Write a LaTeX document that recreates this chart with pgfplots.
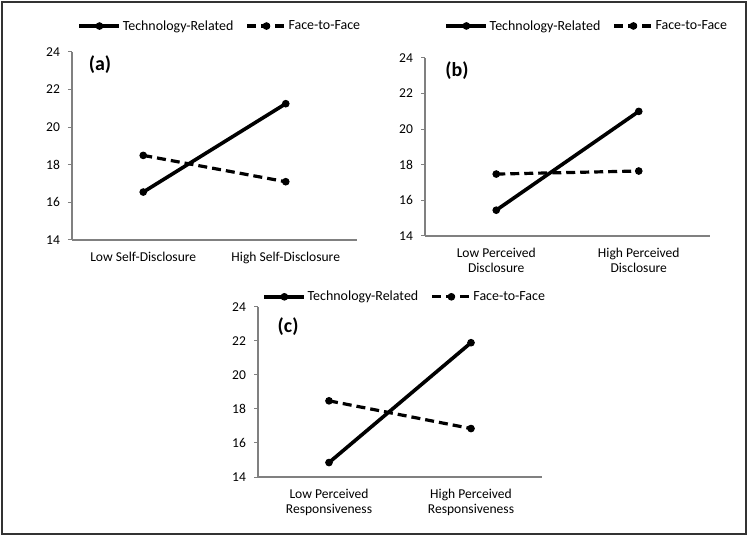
\documentclass[border=0pt]{standalone}
\usepackage{fontspec}
\setmainfont{Carlito}
\usepackage{pgfplots}
\pgfplotsset{compat=1.18}
\definecolor{axgray}{gray}{0.5}
\pgfplotsset{
  panel/.style={
    scale only axis,
    xmin=-0.5, xmax=1.5, ymin=14, ymax=24,
    ytick={14,16,...,24}, xtick={0,1},
    axis x line*=bottom, axis y line*=left,
    axis line style={axgray, line width=1.2bp, -},
    tick align=outside, major tick length=4bp,
    ytick style={axgray, line width=1bp},
    xtick style={draw=none},
    /pgf/number format/assume math mode=true,
    yticklabel style={font=\fontsize{13.6}{15}\selectfont, xshift=-4.5bp},
    xticklabel style={font=\fontsize{13.6}{15}\selectfont, align=center, yshift=-5bp},
    clip=false,
    legend columns=2,
    legend cell align=left,
    legend style={draw=none, fill=none, font=\fontsize{14}{15}\selectfont,
      /tikz/every even column/.append style={column sep=11bp},
      nodes={inner sep=1.5bp},
      inner sep=0pt, anchor=center},
  },
  tech/.style={black, line width=3.6bp, mark=*, mark size=3.3bp,
    mark options={solid, line width=1bp},
    legend image code/.code={\draw[mark repeat=2,mark phase=2,##1] plot coordinates {(0bp,0bp) (20bp,0bp) (40bp,0bp)};}},
  ftf/.style={black, line width=3.2bp, dash pattern=on 9bp off 5bp, mark=*, mark size=3.3bp,
    mark options={solid, line width=1bp},
    legend image code/.code={\draw[mark repeat=2,mark phase=2,##1] plot coordinates {(0bp,0bp) (19bp,0bp) (38bp,0bp)};}},
}
\begin{document}
\begin{tikzpicture}
\useasboundingbox (0,0) rectangle (750bp,536bp);
\draw[line width=2.2bp, black!80] (2bp,2bp) rectangle (746bp,534bp);

% (a)
\begin{axis}[panel, at={(72bp,296bp)}, anchor=south west, width=285bp, height=188bp,
  xticklabels={Low Self-Disclosure, High Self-Disclosure},
  legend style={at={(0.518,1.138)}}]
\addplot[tech] coordinates {(0,16.55) (1,21.25)};
\addlegendentry{Technology-Related}
\addplot[ftf] coordinates {(0,18.5) (1,17.1)};
\addlegendentry{Face-to-Face}
\node[font=\bfseries\fontsize{20}{22}\selectfont] at (rel axis cs:0.098,0.931) {(a)};
\end{axis}

% (b)
\begin{axis}[panel, at={(425bp,300bp)}, anchor=south west, width=285bp, height=178bp,
  xticklabels={{Low Perceived\\Disclosure}, {High Perceived\\Disclosure}},
  legend style={at={(0.567,1.18)}}]
\addplot[tech] coordinates {(0,15.45) (1,21.0)};
\addlegendentry{Technology-Related}
\addplot[ftf] coordinates {(0,17.48) (1,17.65)};
\addlegendentry{Face-to-Face}
\node[font=\bfseries\fontsize{20}{22}\selectfont] at (rel axis cs:0.112,0.927) {(b)};
\end{axis}

% (c)
\begin{axis}[panel, at={(258bp,59bp)}, anchor=south west, width=284bp, height=170bp,
  xticklabels={{Low Perceived\\Responsiveness}, {High Perceived\\Responsiveness}},
  legend style={at={(0.516,1.06)}}]
\addplot[tech] coordinates {(0,14.85) (1,21.9)};
\addlegendentry{Technology-Related}
\addplot[ftf] coordinates {(0,18.48) (1,16.85)};
\addlegendentry{Face-to-Face}
\node[font=\bfseries\fontsize{20}{22}\selectfont] at (rel axis cs:0.106,0.882) {(c)};
\end{axis}
\end{tikzpicture}
\end{document}
